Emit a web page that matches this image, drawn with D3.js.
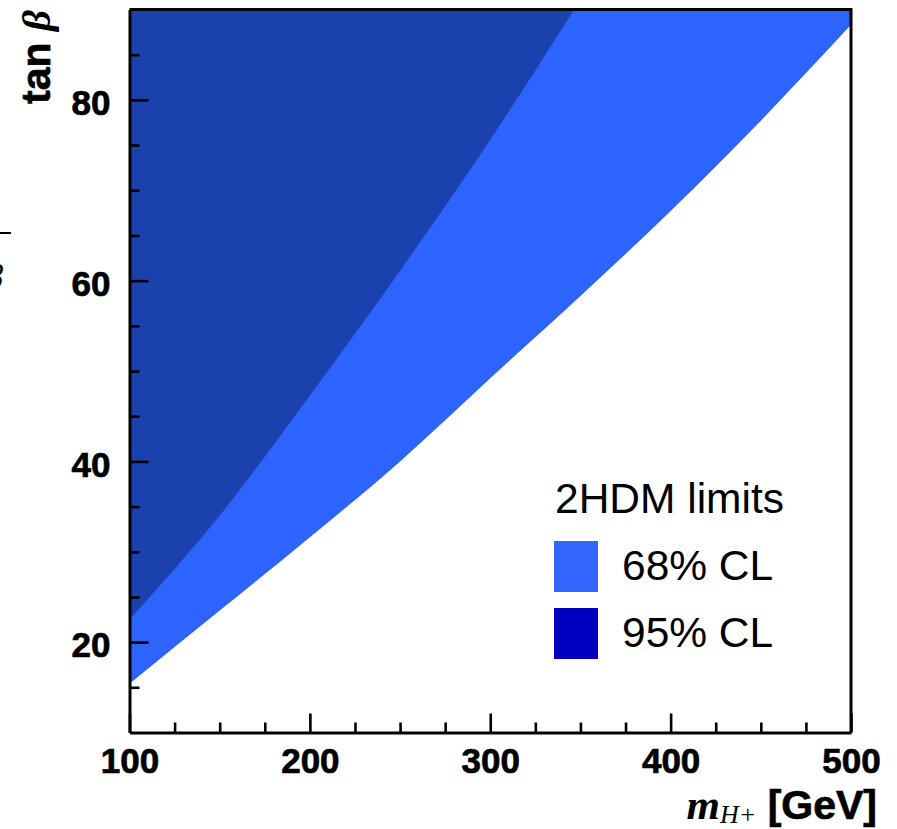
<!DOCTYPE html>
<html>
<head>
<meta charset="utf-8">
<script src="https://cdn.jsdelivr.net/npm/d3@7"></script>
<style>
  html, body { margin: 0; padding: 0; background: #fff; }
  svg { display: block; }
</style>
</head>
<body>
<script>
// ---- data ----
const mass68 = [100, 150, 200, 250, 300, 350, 400, 450, 500];
const tanb68Lower = [15.4, 23.5, 31.6, 40.0, 49.2, 58.3, 67.7, 77.7, 88.3];
const mass95 = [100, 150, 200, 250, 300, 350];
const tanb95Lower = [22.5, 34.0, 47.3, 61.1, 75.6, 91.1];
const xMajorTicks = [100, 200, 300, 400, 500];
const yMajorTicks = [20, 40, 60, 80];
const legendTitle = "2HDM limits";
const legendLabels = ["68% CL", "95% CL"];
const xDomain = [100, 500];
const yDomain = [10, 90];

// ---- layout ----
const W = 897, H = 829;
const pLeft = 129.5, pRight = 851, pTop = 9.5, pBottom = 732.5;
const colLight = "#2d63ff", colDark = "#1b41ae";
const legLight = "#3366ff", legDark = "#0000c0";
const sans = "'Liberation Sans', Arial, Helvetica, sans-serif";
const serif = "'Liberation Serif', 'Times New Roman', serif";

const svg = d3.select("body").append("svg").attr("width", W).attr("height", H);

const x = d3.scaleLinear().domain(xDomain).range([pLeft, pRight]);
const y = d3.scaleLinear().domain(yDomain).range([pBottom, pTop]);

svg.append("defs").append("clipPath").attr("id", "plotclip")
  .append("rect").attr("x", pLeft).attr("y", pTop)
  .attr("width", pRight - pLeft).attr("height", pBottom - pTop);

const plot = svg.append("g").attr("clip-path", "url(#plotclip)");

const d68 = mass68.map((m, i) => ({ m, t: tanb68Lower[i] }));
const d95 = mass95.map((m, i) => ({ m, t: tanb95Lower[i] }));

const area = d3.area()
  .x(d => x(d.m))
  .y0(y(yDomain[1]) - 5)
  .y1(d => y(d.t))
  .curve(d3.curveMonotoneX);

plot.append("path").datum(d68).attr("d", area).attr("fill", colLight);
plot.append("path").datum(d95).attr("d", area).attr("fill", colDark);

// ---- axes ----
const minorX = d3.range(100, 501, 25).filter(v => !xMajorTicks.includes(v));
const minorY = d3.range(10, 91, 5).filter(v => !yMajorTicks.includes(v) && v !== 10 && v !== 90);

function styleAxis(g) {
  g.select(".domain").attr("stroke", "#000").attr("stroke-width", 3);
  g.selectAll(".tick line").attr("stroke", "#000").attr("stroke-width", 2.6);
  g.selectAll(".tick text")
    .attr("fill", "#000")
    .attr("stroke", "#000")
    .attr("stroke-width", 0.7)
    .style("font-family", sans)
    .style("font-weight", "bold")
    .style("font-size", "35px");
}

const gxMinor = svg.append("g").attr("transform", `translate(0,${pBottom})`)
  .call(d3.axisBottom(x).tickValues(minorX).tickSize(-10).tickSizeOuter(0).tickFormat(""));
gxMinor.select(".domain").remove();
gxMinor.selectAll(".tick line").attr("stroke", "#000").attr("stroke-width", 2.6);

const gyMinor = svg.append("g").attr("transform", `translate(${pLeft},0)`)
  .call(d3.axisLeft(y).tickValues(minorY).tickSize(-10).tickSizeOuter(0).tickFormat(""));
gyMinor.select(".domain").remove();
gyMinor.selectAll(".tick line").attr("stroke", "#000").attr("stroke-width", 2.6);

const gx = svg.append("g").attr("transform", `translate(0,${pBottom})`)
  .call(d3.axisBottom(x).tickValues(xMajorTicks).tickSize(-19).tickSizeOuter(0)
    .tickPadding(16).tickFormat(d3.format("d")));
styleAxis(gx);

const gy = svg.append("g").attr("transform", `translate(${pLeft},0)`)
  .call(d3.axisLeft(y).tickValues(yMajorTicks).tickSize(-19).tickSizeOuter(0)
    .tickPadding(19).tickFormat(d3.format("d")));
styleAxis(gy);
gy.selectAll(".tick text").attr("dy", "0.42em");

// frame (top and right)
svg.append("path")
  .attr("d", `M${pLeft},${pTop}H${pRight}V${pBottom}`)
  .attr("fill", "none").attr("stroke", "#000").attr("stroke-width", 3);

// ---- axis titles ----
const xt = svg.append("text")
  .attr("x", 877).attr("y", 819)
  .attr("text-anchor", "end")
  .attr("fill", "#000");
xt.append("tspan").text("m")
  .style("font-family", serif).style("font-style", "italic").style("font-weight", "bold")
  .style("font-size", "43px");
xt.append("tspan").text("H+").attr("dy", 4)
  .style("font-family", serif).style("font-style", "italic")
  .style("font-size", "26px");
xt.append("tspan").text(" [GeV]").attr("dy", -4)
  .attr("stroke", "#000").attr("stroke-width", 0.7)
  .style("font-family", sans).style("font-weight", "bold")
  .style("font-size", "41px");

const yt = svg.append("text")
  .attr("transform", "translate(50,10) rotate(-90)")
  .attr("text-anchor", "end")
  .attr("fill", "#000");
yt.append("tspan").text("tan ")
  .attr("stroke", "#000").attr("stroke-width", 0.7)
  .style("font-family", sans).style("font-weight", "bold").style("font-size", "41px");
yt.append("tspan").text("β")
  .style("font-family", serif).style("font-style", "italic").style("font-weight", "bold")
  .style("font-size", "41px");

// remnants at the far left edge (partially cropped in the reference too)
svg.append("line").attr("x1", 0).attr("x2", 11).attr("y1", 233).attr("y2", 233)
  .attr("stroke", "#000").attr("stroke-width", 2);
svg.append("text").attr("x", -14).attr("y", 288).text("β")
  .style("font-family", serif).style("font-style", "italic").style("font-size", "34px")
  .attr("fill", "#000");

// ---- legend ----
svg.append("text").attr("x", 555).attr("y", 513).text(legendTitle)
  .style("font-family", sans).style("font-size", "42.5px").attr("fill", "#000");

const legColors = [legLight, legDark];
const legY = [541, 608];
legendLabels.forEach((lab, i) => {
  svg.append("rect").attr("x", 554).attr("y", legY[i]).attr("width", 44).attr("height", 51)
    .attr("fill", legColors[i]);
  svg.append("text").attr("x", 622).attr("y", legY[i] + 39).text(lab)
    .style("font-family", sans).style("font-size", "42.5px").attr("fill", "#000");
});
</script>
</body>
</html>
